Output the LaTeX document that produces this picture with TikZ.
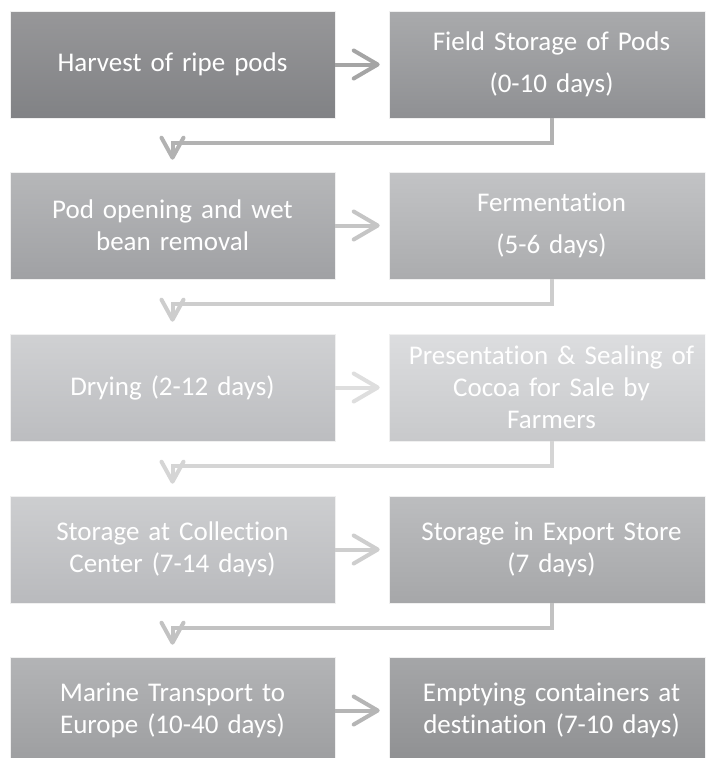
\documentclass[tikz,border=0pt]{standalone}
\usepackage{fontspec}
\setmainfont{Carlito}[RawFeature={-liga;-clig;-dlig}]
\usetikzlibrary{arrows.meta}
\definecolor{aL1}{HTML}{979799}\definecolor{bL1}{HTML}{818285}
\definecolor{aR1}{HTML}{A9AAAC}\definecolor{bR1}{HTML}{8F9093}
\definecolor{aL2}{HTML}{B6B7B9}\definecolor{bL2}{HTML}{A0A1A4}
\definecolor{aR2}{HTML}{C2C3C5}\definecolor{bR2}{HTML}{ABACAE}
\definecolor{aL3}{HTML}{D0D1D3}\definecolor{bL3}{HTML}{BCBDC0}
\definecolor{aR3}{HTML}{DCDDDF}\definecolor{bR3}{HTML}{C8C9CB}
\definecolor{aL4}{HTML}{CDCED0}\definecolor{bL4}{HTML}{B9BABD}
\definecolor{aR4}{HTML}{BCBDBF}\definecolor{bR4}{HTML}{A6A7A9}
\definecolor{aL5}{HTML}{B3B4B6}\definecolor{bL5}{HTML}{9D9EA0}
\definecolor{aR5}{HTML}{A5A6A8}\definecolor{bR5}{HTML}{8F9092}
\definecolor{h1}{HTML}{A5A5A5}\definecolor{d1}{HTML}{B2B2B2}
\definecolor{h2}{HTML}{C5C5C5}\definecolor{d2}{HTML}{CDCDCD}
\definecolor{h3}{HTML}{DEDEDE}\definecolor{d3}{HTML}{D5D5D5}
\definecolor{h4}{HTML}{CECECE}\definecolor{d4}{HTML}{C2C2C2}
\definecolor{h5}{HTML}{B5B5B5}
\tikzset{
  stepbox/.style={rectangle, minimum width=325pt, minimum height=107pt,
    inner sep=0pt, text width=310pt, align=center, text=white,
    font=\fontsize{27}{32}\selectfont, draw=white!88!gray, line width=0.6pt},
  hz/.style={line width=4pt, shorten >=9pt,
    -{Straight Barb[length=24pt, width=28pt, line cap=round, line join=round]}},
  dn/.style={line width=4pt, shorten >=12pt,
    -{Straight Barb[length=20pt, width=22pt, line cap=round, line join=round]}}
}
\begin{document}
\begin{tikzpicture}[x=1pt,y=-1pt]
\useasboundingbox (0,0) rectangle (705,758);
\clip (0,0) rectangle (705,758);
\fill[white] (0,0) rectangle (705,758);
% row 1
\node[stepbox, top color=aL1, bottom color=bL1] (a1) at (172.5,64.5) {Harvest of ripe pods};
\node[stepbox, top color=aR1, bottom color=bR1] (b1) at (551.5,64.5) {Field Storage of Pods\\[10pt](0-10 days)};
% row 2
\node[stepbox, top color=aL2, bottom color=bL2] (a2) at (172.5,225.5) {Pod opening and wet\\bean removal};
\node[stepbox, top color=aR2, bottom color=bR2] (b2) at (551.5,225.5) {Fermentation\\[10pt](5-6 days)};
% row 3
\node[stepbox, top color=aL3, bottom color=bL3] (a3) at (172.5,387.5) {Drying (2-12 days)};
\node[stepbox, top color=aR3, bottom color=bR3] (b3) at (551.5,387.5) {Presentation \& Sealing of\\Cocoa for Sale by\\Farmers};
% row 4
\node[stepbox, top color=aL4, bottom color=bL4] (a4) at (172.5,549.5) {Storage at Collection\\Center (7-14 days)};
\node[stepbox, top color=aR4, bottom color=bR4] (b4) at (551.5,549.5) {Storage in Export Store\\(7 days)};
% row 5
\node[stepbox, top color=aL5, bottom color=bL5] (a5) at (172.5,710.5) {Marine Transport to\\Europe (10-40 days)};
\node[stepbox, top color=aR5, bottom color=bR5] (b5) at (551.5,710.5) {Emptying containers at\\destination (7-10 days)};
% horizontal arrows
\draw[hz, h1] (a1) -- (b1);
\draw[hz, h2] (a2) -- (b2);
\draw[hz, h3] (a3) -- (b3);
\draw[hz, h4] (a4) -- (b4);
\draw[hz, h5] (a5) -- (b5);
% down connectors
\draw[dn, d1] (b1.south) -- ++(0,25) -| (a2.north);
\draw[dn, d2] (b2.south) -- ++(0,25) -| (a3.north);
\draw[dn, d3] (b3.south) -- ++(0,25) -| (a4.north);
\draw[dn, d4] (b4.south) -- ++(0,25) -| (a5.north);
\end{tikzpicture}
\end{document}
